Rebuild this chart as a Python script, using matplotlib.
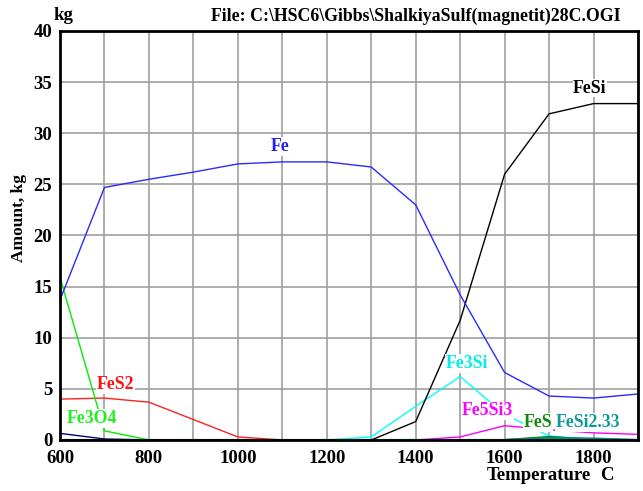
import numpy as np
import matplotlib
matplotlib.use("Agg")
import matplotlib.pyplot as plt

# temperature steps (C)
temps = [600, 700, 800, 900, 1000, 1100, 1200, 1300, 1400, 1500, 1600, 1700, 1800, 1900]

# amounts, kg
fe = [13.7, 24.7, 25.5, 26.2, 27.0, 27.2, 27.2, 26.7, 23.0, 14.2, 6.6, 4.3, 4.1, 4.5]
fesi = [0, 0, 0, 0, 0, 0, 0, 0, 1.8, 11.7, 26.0, 31.9, 32.9, 32.9]
fes2 = [4.0, 4.1, 3.7, 2.0, 0.3, 0, 0, 0, 0, 0, 0, 0, 0, 0]
fe3o4 = [15.9, 0.9, 0, 0, 0, 0, 0, 0, 0, 0, 0, 0, 0, 0]
fe3si = [0, 0, 0, 0, 0, 0, 0, 0.3, 3.3, 6.2, 2.5, 0.4, 0, 0]
fe5si3 = [0, 0, 0, 0, 0, 0, 0, 0, 0, 0.3, 1.4, 1.0, 0.7, 0.55]
fes = [0, 0, 0, 0, 0, 0, 0, 0, 0, 0, 0, 0.3, 0.05, 0]
fesi233 = [0, 0, 0, 0, 0, 0, 0, 0, 0, 0, 0, 0.2, 0.15, 0]
other = [0.65, 0.1, 0, 0, 0, 0, 0, 0, 0, 0, 0, 0, 0, 0]

# label anchors (T, kg)
labels = [
    ("Fe", 1095, 28.7, "#2222ee"),
    ("FeSi", 1792, 34.4, "black"),
    ("FeS2", 724, 5.4, "#ff1010"),
    ("Fe3O4", 671, 2.1, "#22ee22"),
    ("Fe3Si", 1515, 7.5, "#00eeee"),
    ("Fe5Si3", 1561, 2.85, "#ff00ff"),
    ("FeS", 1675, 1.7, "#118811"),
    ("FeSi2.33", 1788, 1.7, "#119999"),
]

fig = plt.figure(figsize=(6.43, 4.91), dpi=100)
ax = fig.add_axes([60/643, 51/491, 578/643, 409/491])

serif = "Liberation Serif"

ax.plot(temps, other, color="#000080", lw=1)
ax.plot(temps, fes2, color="#ff2020", lw=1)
ax.plot(temps, fe3o4, color="#00ee00", lw=1)
ax.plot(temps, fe3si, color="#00ffff", lw=1)
ax.plot(temps, fe5si3, color="#ff00ff", lw=1)
ax.plot(temps, fes, color="#008000", lw=1.5)
ax.plot(temps, fesi233, color="#008b8b", lw=1.5)
ax.plot(temps, fesi, color="black", lw=1)
ax.plot(temps, fe, color="#2a2aff", lw=1)

for txt, x, y, c in labels:
    ax.text(x, y, txt, color=c, fontsize=12.8, fontweight="bold", family=serif,
            ha="center", va="center", zorder=5,
            bbox=dict(facecolor="white", edgecolor="none", pad=0.5))

ax.set_xlim(600, 1900)
ax.set_ylim(0, 40)
ax.set_xticks(np.arange(600, 1901, 100))
ax.set_xticklabels([str(t) if t % 200 == 0 else "" for t in range(600, 1901, 100)])
ax.set_yticks(np.arange(0, 41, 5))
ax.grid(True, color="#a0a0a0", lw=1.2)
ax.set_axisbelow(True)
ax.tick_params(axis="y", length=0, pad=5.5)
ax.tick_params(axis="x", length=0, pad=7)
for lab in ax.get_xticklabels() + ax.get_yticklabels():
    lab.set_fontfamily(serif)
    lab.set_fontweight("bold")
    lab.set_fontsize(13.5)
for s in ax.spines.values():
    s.set_linewidth(2)
    s.set_color("black")

fig.text(54/643, 1 - 15/491, "kg", family=serif, fontweight="bold", fontsize=13.5, va="center")
fig.text(211/643, 1 - 16/491, r"File: C:\HSC6\Gibbs\ShalkiyaSulf(magnetit)28C.OGI",
         family=serif, fontweight="bold", fontsize=12.8, va="center")
fig.text(19/643, 1 - 218/491, "Amount, kg", family=serif, fontweight="bold", fontsize=12.5,
         rotation=90, ha="center", va="center")
fig.text(487/643, 1 - 476/491, "Temperature", family=serif, fontweight="bold", fontsize=13.5, va="center")
fig.text(600/643, 1 - 476/491, "C", family=serif, fontweight="bold", fontsize=13.5, va="center")

fig.savefig("out.png", dpi=100)
